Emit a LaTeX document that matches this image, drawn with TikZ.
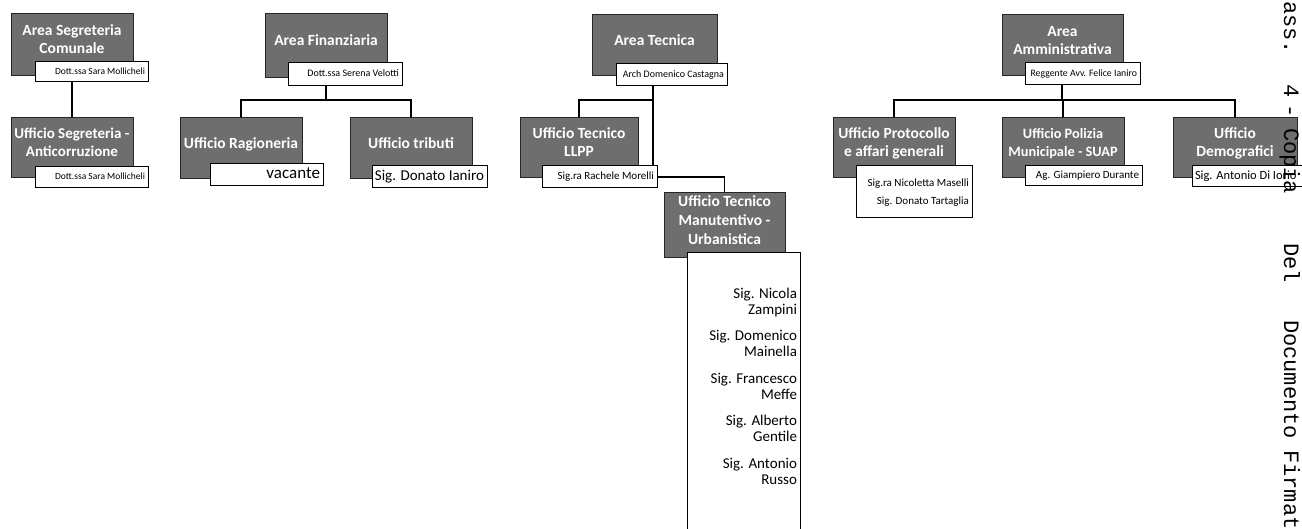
\documentclass[tikz,border=0pt]{standalone}
\usepackage{fontspec}
\setmainfont{Carlito}
\newfontfamily\wmfont{Liberation Mono}
\pgfdeclarelayer{background}
\pgfsetlayers{background,main}
\newcommand\gtx[2][-1pt]{\raisebox{#1}[0pt][0pt]{\begin{tabular}{@{}c@{}}#2\end{tabular}}}
\newcommand\rtx[2][r]{\makebox[\otw pt][#1]{\begin{tabular}{@{}#1@{}}#2\end{tabular}}}
\newcommand\orgbox[7]{%
  \pgfmathsetmacro\obw{#4-#2}\pgfmathsetmacro\obh{#5-#3}\pgfmathsetmacro\otw{#4-#2-6}%
  \node[#6, minimum width=\obw pt, minimum height=\obh pt] (#1) at ({(#2+#4)/2},{(#3+#5)/2}) {#7};}
\tikzset{
  graybox/.style={draw=black!85, line width=0.7pt, fill=black!57, text=white, inner sep=0pt,
    font=\fontsize{15.5}{18}\selectfont\bfseries},
  nbase/.style={draw=black, line width=1pt, fill=white, text=black, inner xsep=3pt, inner ysep=0pt},
  conn/.style={line width=1.7pt, draw=black},
  wm/.style={font=\wmfont\fontsize{22}{22}\selectfont, rotate=-90, anchor=base west, inner sep=0pt, text=black}
}
\begin{document}
\begin{tikzpicture}[x=1pt,y=-1pt]
\useasboundingbox (0,0) rectangle (1302,529);
\begin{scope}
\clip (0,0) rectangle (1302,529);
% Area Segreteria
\orgbox{segAg}{11}{13}{133}{75}{graybox}{\gtx{Area Segreteria\\Comunale}}
\orgbox{segAn}{35}{62}{148}{82}{nbase,font=\fontsize{9.5}{11}\selectfont}{\rtx{Dott.ssa Sara Mollicheli}}
\orgbox{segUg}{11}{117}{133}{177}{graybox,font=\fontsize{15}{18}\selectfont\bfseries}{\gtx{Ufficio Segreteria -\\Anticorruzione}}
\orgbox{segUn}{35}{167}{148}{188}{nbase,font=\fontsize{9.5}{11}\selectfont}{\rtx{Dott.ssa Sara Mollicheli}}
% Area Finanziaria
\orgbox{finG}{265}{13}{387}{77}{graybox}{\gtx{Area Finanziaria}}
\orgbox{finN}{288}{63}{402}{86}{nbase,font=\fontsize{10}{12}\selectfont}{\rtx{Dott.ssa Serena Velotti}}
\orgbox{ragG}{180}{117}{302}{178}{graybox}{\gtx{Ufficio Ragioneria}}
\orgbox{ragN}{210}{164}{323}{186}{nbase,font=\fontsize{17}{20}\selectfont}{\rtx{vacante}}
\orgbox{tribG}{350}{117}{472}{178}{graybox}{\gtx{Ufficio tributi}}
\orgbox{tribN}{372}{166}{487}{188}{nbase,font=\fontsize{15}{18}\selectfont}{\rtx{Sig. Donato Ianiro}}
% Area Tecnica
\orgbox{tecG}{592}{14}{717}{75}{graybox}{\gtx{Area Tecnica}}
\orgbox{tecN}{616}{64}{727}{86}{nbase,font=\fontsize{10}{12}\selectfont}{\rtx{Arch Domenico Castagna}}
\orgbox{llppG}{520}{117}{638}{177}{graybox}{\gtx{Ufficio Tecnico\\LLPP}}
\orgbox{llppN}{542}{166}{657}{188}{nbase,font=\fontsize{11}{13}\selectfont}{\rtx{Sig.ra Rachele Morelli}}
\orgbox{manG}{664}{192}{785}{257}{graybox,font=\fontsize{15.5}{19}\selectfont\bfseries}{\gtx{Ufficio Tecnico\\Manutentivo -\\Urbanistica}}
\orgbox{manN}{687}{253}{800}{540}{nbase,font=\fontsize{15}{16}\selectfont}{\raisebox{5pt}[0pt][0pt]{\rtx{Sig. Nicola\\Zampini\\[10.5pt]Sig. Domenico\\Mainella\\[10.5pt]Sig. Francesco\\Meffe\\[10.5pt]Sig. Alberto\\Gentile\\[10.5pt]Sig. Antonio\\Russo}}}
% Area Amministrativa
\orgbox{ammG}{1002}{14}{1123}{75}{graybox}{\gtx{Area\\Amministrativa}}
\orgbox{ammN}{1025}{63}{1140}{85}{nbase,font=\fontsize{9.8}{12}\selectfont}{\rtx{Reggente Avv. Felice Ianiro}}
\orgbox{protG}{833}{117}{955}{177}{graybox}{\gtx{Ufficio Protocollo\\e affari generali}}
\orgbox{protN}{856}{166}{972}{218}{nbase,font=\fontsize{11}{18}\selectfont}{\rtx{Sig.ra Nicoletta Maselli\\Sig. Donato Tartaglia}}
\orgbox{polG}{1002}{117}{1124}{177}{graybox,font=\fontsize{14.3}{18}\selectfont\bfseries}{\gtx{Ufficio Polizia\\Municipale - SUAP}}
\orgbox{polN}{1025}{166}{1142}{186}{nbase,font=\fontsize{11}{13}\selectfont}{\rtx{Ag. Giampiero Durante}}
\orgbox{demG}{1173}{117}{1297}{177}{graybox}{\gtx{Ufficio\\Demografici}}
\orgbox{demN}{1192}{166}{1310}{187}{nbase,font=\fontsize{12.5}{15}\selectfont}{\rtx[l]{Sig. Antonio Di Iorio}}
% junctions
\coordinate (finJ) at (326,100);
\coordinate (tecJ) at (653,100);
\coordinate (ammJ) at (1062,100);
% watermark
\node[wm] (wm1) at (1284,1) {ass.};
\node[wm] (wm2) at (1284,84) {4};
\node[wm] (wm3) at (1284,104) {-};
\node[wm] (wm4) at (1284,128) {Copia};
\node[wm] (wm5) at (1284,243) {Del};
\node[wm] (wm6) at (1284,320) {Documento};
\node[wm] (wm7) at (1284,450) {Firmat};
\end{scope}
\begin{pgfonlayer}{background}
\draw[conn] (segAn.south -| segAg.center) -- (segUg.north);
\draw[conn] (finN.south -| finG.center) -- (finJ -| finG.center);
\draw[conn] (ragG.north) -- (ragG.north |- finJ) -- (tribG.north |- finJ) -- (tribG.north);
\draw[conn] (tecN.south -| tecJ) -- (llppN.east -| tecJ) -- (llppN.east -| manG.north) -- (manG.north);
\draw[conn] (llppG.north) -- (llppG.north |- tecJ) -- (tecJ);
\draw[conn] (ammN.south -| ammJ) -- (ammJ);
\draw[conn] (protG.north) -- (protG.north |- ammJ) -- (demG.north |- ammJ) -- (demG.north);
\draw[conn] (polG.north) -- (polG.north |- ammJ);
\end{pgfonlayer}
\end{tikzpicture}
\end{document}
